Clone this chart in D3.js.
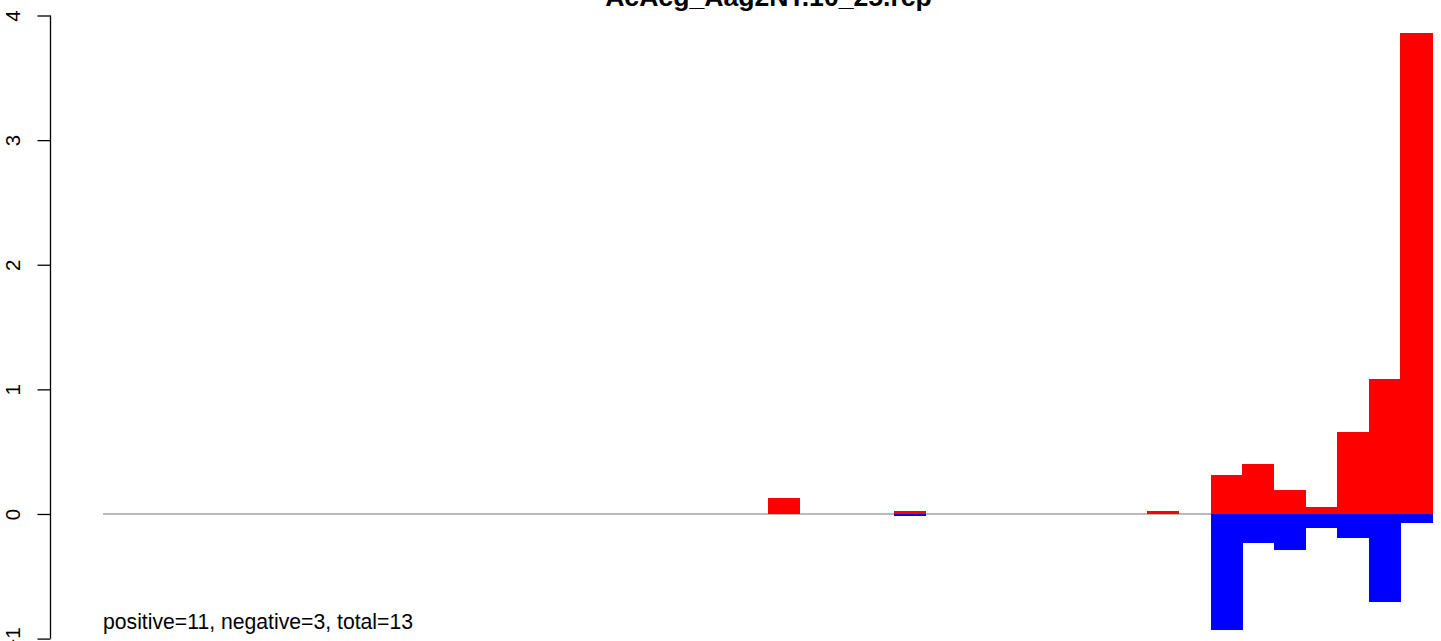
<!DOCTYPE html>
<html>
<head>
<meta charset="utf-8">
<script src="https://cdn.jsdelivr.net/npm/d3@7"></script>
<style>
  html, body { margin: 0; padding: 0; background: #fff; }
  svg { display: block; }
  text { font-family: "Liberation Sans", Arial, Helvetica, sans-serif; }
</style>
</head>
<body>
<svg id="chart" width="1441" height="641"></svg>
<script>
// ---- data ----
const title = "AcAcg_Aag2NT.10_25.rcp";
const note = "positive=11, negative=3, total=13";
const nBins = 42;
const binIndex = [21, 25, 33, 35, 36, 37, 38, 39, 40, 41];
const positiveValues = [0.13, 0.02, 0.02, 0.31, 0.40, 0.19, 0.06, 0.66, 1.08, 3.86];
const negativeValues = [0.00, -0.02, 0.00, -0.935, -0.23, -0.29, -0.11, -0.19, -0.71, -0.07];
const yTicks = [-1, 0, 1, 2, 3, 4];

// ---- layout ----
const svg = d3.select("#chart");
const x = d3.scaleLinear().domain([0, nBins]).range([103, 1432]);
const y = d3.scaleLinear().domain([-1, 4]).range([638.6, 15.5]);

// zero line
svg.append("line")
  .attr("x1", x(0)).attr("x2", x(nBins))
  .attr("y1", y(0)).attr("y2", y(0))
  .attr("stroke", "#777").attr("stroke-width", 1.2);

const rows = binIndex.map((b, i) => ({ b, p: positiveValues[i], n: negativeValues[i] }));

svg.append("g").attr("shape-rendering", "crispEdges")
  .selectAll("rect").data(rows.filter(d => d.n < 0)).join("rect")
  .attr("x", d => x(d.b)).attr("width", d => x(d.b + 1) - x(d.b) + 0.5)
  .attr("y", y(0)).attr("height", d => y(d.n) - y(0))
  .attr("fill", "#0000ff");

svg.append("g").attr("shape-rendering", "crispEdges")
  .selectAll("rect").data(rows.filter(d => d.p > 0)).join("rect")
  .attr("x", d => x(d.b)).attr("width", d => x(d.b + 1) - x(d.b) + 0.5)
  .attr("y", d => y(d.p)).attr("height", d => y(0) - y(d.p))
  .attr("fill", "#ff0000");

// y axis
const axis = d3.axisLeft(y).tickValues(yTicks).tickSize(13).tickFormat(d3.format("d"));
const ag = svg.append("g").attr("transform", "translate(50.5,0)").call(axis);
ag.selectAll(".domain").attr("stroke", "#000").attr("stroke-width", 1.3)
  .attr("d", `M0,${y(4)}V${y(-1)}`);
ag.selectAll(".tick line").attr("stroke", "#000").attr("stroke-width", 1.3);
ag.selectAll(".tick text")
  .attr("x", null).attr("dy", null)
  .attr("transform", "translate(-30.5,0) rotate(-90)")
  .attr("text-anchor", "middle")
  .attr("font-size", 20.5)
  .attr("font-family", "Liberation Sans, Arial, sans-serif")
  .attr("fill", "#000");

// title
svg.append("text")
  .attr("x", 768.5).attr("y", 6)
  .attr("text-anchor", "middle")
  .attr("font-weight", "bold")
  .attr("font-size", 26.6)
  .text(title);

// note
svg.append("text")
  .attr("x", 103).attr("y", 629)
  .attr("font-size", 21.2)
  .text(note);
</script>
</body>
</html>
